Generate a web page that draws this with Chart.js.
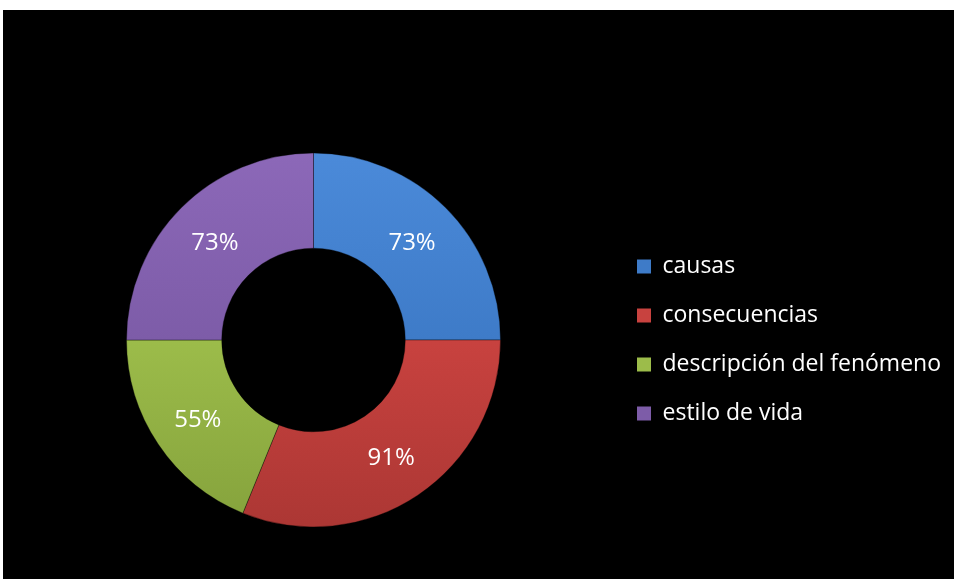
<!DOCTYPE html>
<html>
<head>
<meta charset="utf-8">
<script src="https://cdn.jsdelivr.net/npm/chart.js@4/dist/chart.umd.min.js"></script>
<style>
  html, body { margin: 0; padding: 0; background: #fff; }
  #wrap { position: absolute; left: 3px; top: 10px; width: 951px; height: 569px; background: #000; }
</style>
</head>
<body>
<div id="wrap"><canvas id="donut" width="951" height="569"></canvas></div>
<script>
const categories = ['causas', 'consecuencias', 'descripción del fenómeno', 'estilo de vida'];
const values = [73, 91, 55, 73];

// colores: claro arriba, oscuro abajo (efecto bisel)
const topColors = ['#4B8AD9', '#DB4B48', '#AACB55', '#8C68B8'];
const baseColors = ['#3E7BC8', '#C8423F', '#9CBC4A', '#7D5CA8'];
const bottomColors = ['#30619F', '#AC3734', '#85A23C', '#664B8C'];

const RADIUS = 187;
const CUTOUT = 93;

function sliceFill(ctx) {
  const i = ctx.dataIndex;
  const area = ctx.chart.chartArea;
  if (!area) return baseColors[i];
  const cy = (area.top + area.bottom) / 2;
  const g = ctx.chart.ctx.createLinearGradient(0, cy - RADIUS, 0, cy + RADIUS);
  g.addColorStop(0, topColors[i]);
  g.addColorStop(0.5, baseColors[i]);
  g.addColorStop(1, bottomColors[i]);
  return g;
}

// porcentajes dentro de cada sector
const valueLabels = {
  id: 'valueLabels',
  afterDatasetsDraw(chart) {
    const ctx = chart.ctx;
    const meta = chart.getDatasetMeta(0);
    ctx.save();
    ctx.fillStyle = '#fff';
    ctx.font = '24px "Open Sans", sans-serif';
    ctx.textAlign = 'center';
    ctx.textBaseline = 'middle';
    meta.data.forEach((arc, i) => {
      const p = arc.tooltipPosition();
      ctx.fillText(values[i] + '%', p.x, p.y + 2);
    });
    ctx.restore();
  }
};

new Chart(document.getElementById('donut'), {
  type: 'doughnut',
  data: {
    labels: categories,
    datasets: [{
      data: values,
      backgroundColor: sliceFill,
      borderColor: 'rgba(0,0,0,0.35)',
      borderWidth: 1
    }]
  },
  options: {
    responsive: false,
    animation: false,
    radius: RADIUS,
    cutout: CUTOUT,
    layout: { padding: { left: 13, right: 3, top: 140, bottom: 49 } },
    plugins: {
      tooltip: { enabled: false },
      legend: {
        position: 'right',
        labels: {
          color: '#fff',
          font: { family: '"Open Sans", sans-serif', size: 23 },
          boxWidth: 14,
          boxHeight: 14,
          padding: 26,
          generateLabels(chart) {
            const items = Chart.overrides.doughnut.plugins.legend.labels.generateLabels(chart);
            items.forEach((it, i) => {
              it.fillStyle = baseColors[i];
              it.strokeStyle = baseColors[i];
              it.lineWidth = 0;
            });
            return items;
          }
        }
      }
    }
  },
  plugins: [valueLabels]
});
</script>
</body>
</html>
